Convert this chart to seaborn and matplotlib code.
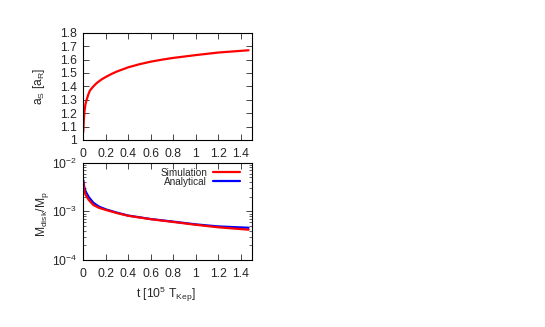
import numpy as np
import pandas as pd
import matplotlib
matplotlib.use("Agg")
import matplotlib.pyplot as plt
import seaborn as sns
from matplotlib.ticker import LogLocator, NullFormatter, FixedLocator
from matplotlib.lines import Line2D

# data
t_top = [0.0, 0.005, 0.01, 0.02, 0.03, 0.045, 0.06, 0.09, 0.12, 0.16, 0.2, 0.25, 0.3, 0.4, 0.5, 0.6, 0.7, 0.8, 1.0, 1.2, 1.47]
a_s = [1.06, 1.15, 1.21, 1.27, 1.30, 1.34, 1.37, 1.40, 1.425, 1.45, 1.47, 1.492, 1.511, 1.542, 1.565, 1.584, 1.599, 1.612, 1.633, 1.652, 1.669]

t_bot = [0.0, 0.005, 0.01, 0.02, 0.03, 0.05, 0.09, 0.14, 0.2, 0.3, 0.4, 0.6, 0.8, 1.0, 1.2, 1.47]
m_sim = [4.1e-3, 3.1e-3, 2.6e-3, 2.2e-3, 2.0e-3, 1.7e-3, 1.35e-3, 1.18e-3, 1.07e-3, 9.2e-4, 8.1e-4, 6.9e-4, 6.05e-4, 5.3e-4, 4.7e-4, 4.2e-4]
m_ana = [4.4e-3, 3.6e-3, 3.1e-3, 2.6e-3, 2.35e-3, 1.95e-3, 1.5e-3, 1.25e-3, 1.1e-3, 9.4e-4, 8.2e-4, 6.95e-4, 6.15e-4, 5.4e-4, 4.9e-4, 4.6e-4]

x_ticks = [0, 0.2, 0.4, 0.6, 0.8, 1.0, 1.2, 1.4]
x_labels = ["0", "0.2", "0.4", "0.6", "0.8", "1", "1.2", "1.4"]
y_top_ticks = [1.0, 1.1, 1.2, 1.3, 1.4, 1.5, 1.6, 1.7, 1.8]
y_top_labels = ["1", "1.1", "1.2", "1.3", "1.4", "1.5", "1.6", "1.7", "1.8"]
y_bot_ticks = [1e-4, 1e-3, 1e-2]
y_bot_labels = [r"10$^{-4}$", r"10$^{-3}$", r"10$^{-2}$"]

sns.set_style("ticks")
plt.rcParams["font.family"] = ["Liberation Sans", "DejaVu Sans"]
plt.rcParams["mathtext.fontset"] = "custom"
plt.rcParams["mathtext.rm"] = "Liberation Sans"
plt.rcParams["mathtext.it"] = "Liberation Sans"
fs = 8.7
lfs = 7.2

fig = plt.figure(figsize=(5.45, 3.27), dpi=100)
ax1 = fig.add_axes([0.1528, 0.5719, 0.3095, 0.3281])
ax2 = fig.add_axes([0.1528, 0.2049, 0.3095, 0.2975])

df_top = pd.DataFrame({"t": t_top, "a": a_s})
sns.lineplot(data=df_top, x="t", y="a", ax=ax1, color="#ff0000", lw=1.6)
ax1.set_xlim(0, 1.5)
ax1.set_ylim(1.0, 1.8)
ax1.set_xticks(x_ticks)
ax1.set_xticklabels(x_labels)
ax1.set_yticks(y_top_ticks)
ax1.set_yticklabels(y_top_labels)
ax1.set_xlabel("")
ax1.set_ylabel(r"a$_\mathrm{S}$ [a$_\mathrm{R}$]", fontsize=fs)
ax1.yaxis.set_label_coords(-0.215, 0.5)

df_bot = pd.DataFrame({"t": t_bot * 2, "m": m_ana + m_sim,
                       "series": ["Analytical"] * len(t_bot) + ["Simulation"] * len(t_bot)})
sns.lineplot(data=df_bot, x="t", y="m", hue="series", ax=ax2,
             palette={"Simulation": "#ff0000", "Analytical": "#0000ff"}, lw=1.6, legend=False)
ax2.set_yscale("log")
ax2.set_xlim(0, 1.5)
ax2.set_ylim(1e-4, 1e-2)
ax2.set_xticks(x_ticks)
ax2.set_xticklabels(x_labels)
ax2.yaxis.set_major_locator(FixedLocator(y_bot_ticks))
ax2.yaxis.set_minor_locator(LogLocator(base=10, subs=np.arange(2, 10)))
ax2.yaxis.set_minor_formatter(NullFormatter())
ax2.set_yticklabels(y_bot_labels)
ax2.set_xlabel(r"t [10$^5$ T$_\mathrm{Kep}$]", fontsize=fs)
ax2.xaxis.set_label_coords(0.49, -0.26)
ax2.set_ylabel(r"M$_\mathrm{disk}$/M$_\mathrm{p}$", fontsize=fs)
ax2.yaxis.set_label_coords(-0.19, 0.47)

handles = [Line2D([], [], color="#ff0000", lw=1.6), Line2D([], [], color="#0000ff", lw=1.6)]
ax2.legend(handles, ["Simulation", "Analytical"], loc="upper right", frameon=False,
           bbox_to_anchor=(0.93, 0.95), borderpad=0, borderaxespad=0,
           markerfirst=False, fontsize=lfs, handlelength=2.7, labelspacing=-0.1,
           handletextpad=0.6)

for ax in (ax1, ax2):
    for s in ax.spines.values():
        s.set_visible(True)
        s.set_linewidth(0.8)
        s.set_color("black")
    ax.tick_params(which="both", direction="in", top=True, right=True, labelsize=fs)
    ax.tick_params(axis="y", pad=4.5)
    ax.tick_params(axis="x", pad=6)
    ax.tick_params(which="major", length=4, width=0.6)
    ax.tick_params(which="minor", length=2, width=0.5)

fig.savefig("out.png", dpi=100, facecolor="white")
